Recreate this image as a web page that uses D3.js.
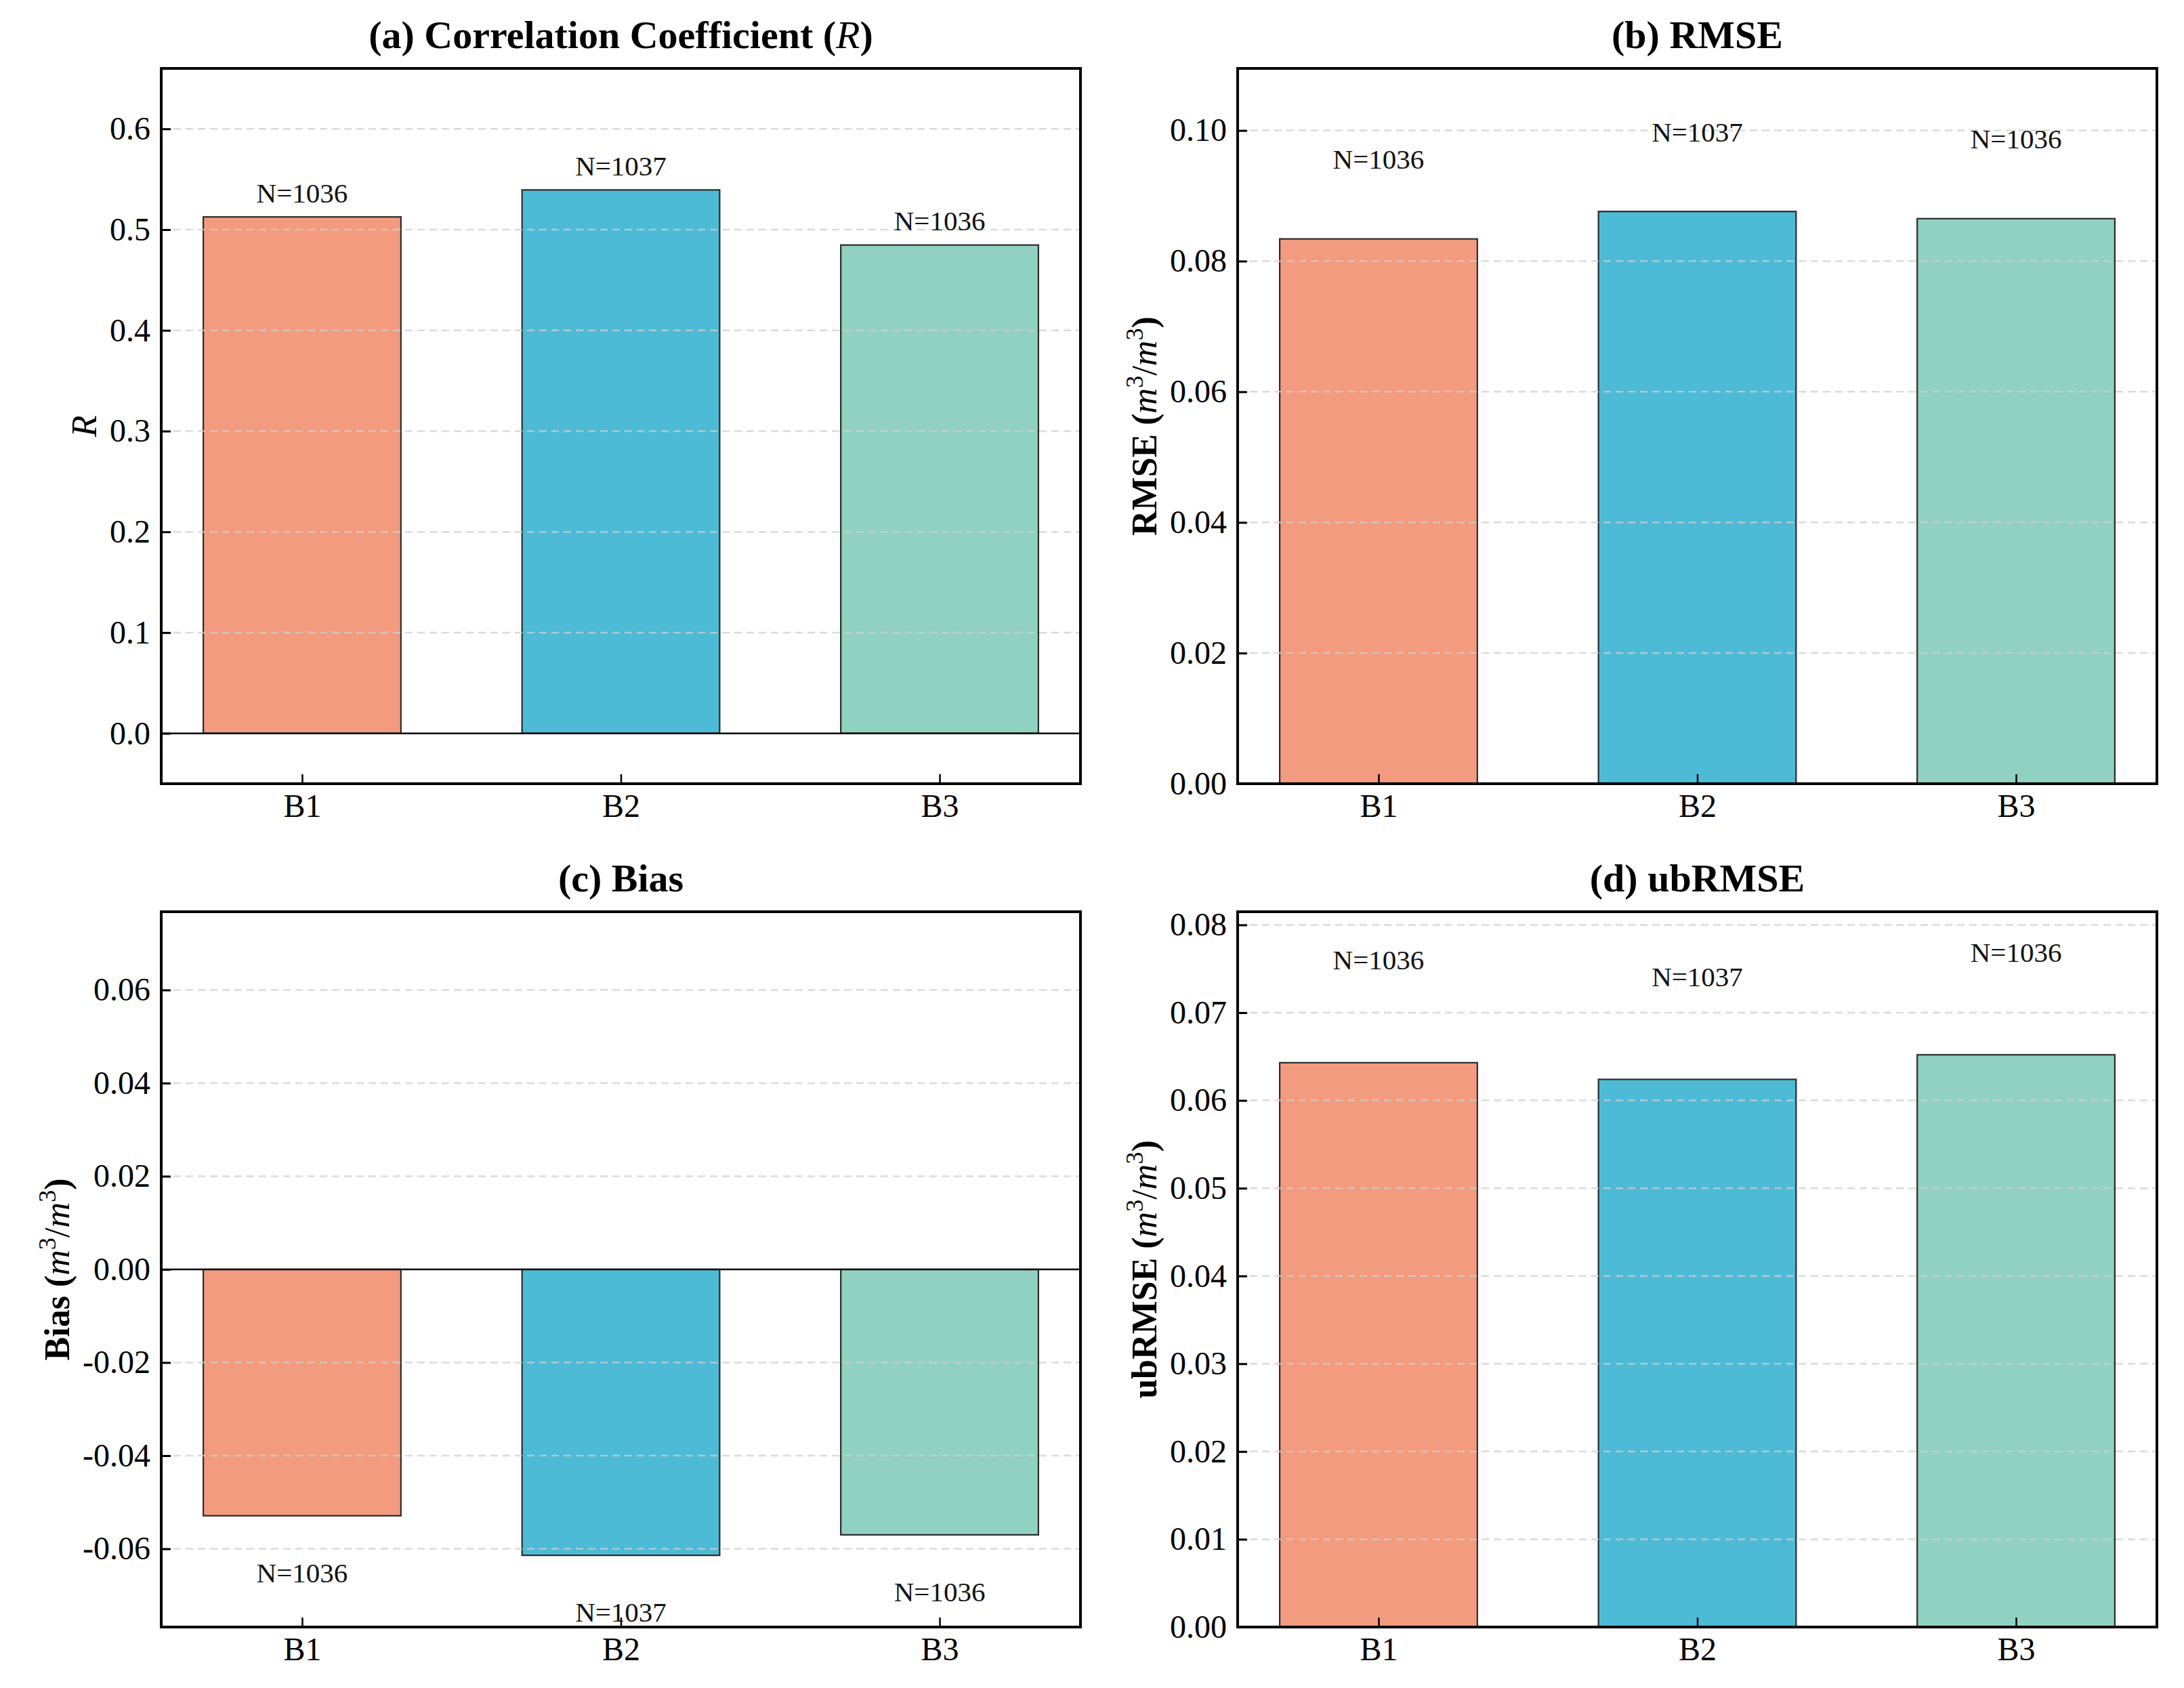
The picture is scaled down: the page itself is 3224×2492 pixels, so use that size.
<!DOCTYPE html>
<html>
<head>
<meta charset="utf-8">
<script src="https://cdn.jsdelivr.net/npm/d3@7"></script>
<style>
  body { margin: 0; background: #fff; }
</style>
</head>
<body>
<script>
// values
const categories = ["B1", "B2", "B3"];
const sampleCounts = [1036, 1037, 1036];
const rValues = [0.5126, 0.5394, 0.4847];
const rmseValues = [0.0834, 0.0876, 0.0865];
const biasValues = [-0.0529, -0.0614, -0.057];
const ubrmseValues = [0.0643, 0.0624, 0.0652];

const rTicks = [0, 0.1, 0.2, 0.3, 0.4, 0.5, 0.6];
const rmseTicks = [0, 0.02, 0.04, 0.06, 0.08, 0.1];
const biasTicks = [-0.06, -0.04, -0.02, 0, 0.02, 0.04, 0.06];
const ubrmseTicks = [0, 0.01, 0.02, 0.03, 0.04, 0.05, 0.06, 0.07, 0.08];

const barColors = ["#F39B7F", "#4DBBD5", "#91D1C2"];

const font = "'Liberation Serif', 'Times New Roman', serif";
const W = 1357;
const H = 1056;

const svg = d3
  .select("body")
  .append("svg")
  .attr("width", 3224)
  .attr("height", 2492)
  .style("background", "#fff");

const unitLabel = (name) => [
  { t: name + " (" },
  { t: "m", italic: true, bold: false },
  { t: "3", sup: true, bold: false },
  { t: "/", bold: false },
  { t: "m", italic: true, bold: false },
  { t: "3", sup: true, bold: false },
  { t: ")" },
];

const panels = [
  {
    left: 238, top: 101,
    title: [{ t: "(a) Correlation Coefficient (" }, { t: "R", italic: true, bold: false }, { t: ")" }],
    ylabel: [{ t: "R", italic: true, bold: false }],
    values: rValues, ticks: rTicks, domain: [-0.05, 0.66], decimals: 1,
    offset: 0.024, zeroLine: true,
  },
  {
    left: 1827, top: 101,
    title: [{ t: "(b) RMSE" }],
    ylabel: unitLabel("RMSE"),
    values: rmseValues, ticks: rmseTicks, domain: [0, 0.1095], decimals: 2,
    offset: 0.0122, zeroLine: false,
  },
  {
    left: 238, top: 1346,
    title: [{ t: "(c) Bias" }],
    ylabel: unitLabel("Bias"),
    values: biasValues, ticks: biasTicks, domain: [-0.0768, 0.0768], decimals: 2,
    offset: 0.0122, zeroLine: true,
  },
  {
    left: 1827, top: 1346,
    title: [{ t: "(d) ubRMSE" }],
    ylabel: unitLabel("ubRMSE"),
    values: ubrmseValues, ticks: ubrmseTicks, domain: [0, 0.0815], decimals: 2,
    offset: 0.0117, zeroLine: false,
  },
];

// rich text with italic / superscript pieces
const addParts = (text, parts, size, bold) => {
  let back = 0;
  parts.forEach((p) => {
    const isBold = p.bold === undefined ? bold : p.bold;
    const span = text
      .append("tspan")
      .text(p.t)
      .attr("font-style", p.italic ? "italic" : "normal")
      .attr("font-weight", isBold ? "bold" : "normal");
    if (p.sup) {
      span.attr("font-size", size * 0.7).attr("dy", back - size * 0.38);
      back = size * 0.38;
    } else {
      span.attr("font-size", size);
      if (back) span.attr("dy", back);
      back = 0;
    }
  });
};

const drawPanel = (p) => {
  const g = svg.append("g").attr("transform", `translate(${p.left},${p.top})`);

  const x = d3.scalePoint().domain(categories).range([0, W]).padding(0.442);
  const y = d3.scaleLinear().domain(p.domain).range([H, 0]);
  const bw = x.step() * 0.62;

  g.append("g")
    .selectAll("rect")
    .data(p.values)
    .join("rect")
    .attr("x", (d, i) => x(categories[i]) - bw / 2)
    .attr("y", (d) => y(Math.max(0, d)))
    .attr("width", bw)
    .attr("height", (d) => Math.abs(y(d) - y(0)))
    .attr("fill", (d, i) => barColors[i])
    .attr("stroke", "#2b2b2b")
    .attr("stroke-width", 2.2);

  // dashed grid over the bars
  g.append("g")
    .selectAll("line")
    .data(p.ticks.filter((t) => !(p.zeroLine && t === 0)))
    .join("line")
    .attr("x1", 0)
    .attr("x2", W)
    .attr("y1", (d) => y(d))
    .attr("y2", (d) => y(d))
    .attr("stroke", "#cfcfcf")
    .attr("stroke-opacity", 0.75)
    .attr("stroke-width", 2.5)
    .attr("stroke-dasharray", "11,7");

  if (p.zeroLine) {
    g.append("line")
      .attr("x1", 0)
      .attr("x2", W)
      .attr("y1", y(0))
      .attr("y2", y(0))
      .attr("stroke", "#000")
      .attr("stroke-width", 2.5);
  }

  // N labels
  g.append("g")
    .selectAll("text")
    .data(p.values)
    .join("text")
    .attr("x", (d, i) => x(categories[i]))
    .attr("y", (d) => y(d + (d < 0 ? -p.offset : p.offset)))
    .attr("text-anchor", "middle")
    .attr("dominant-baseline", "central")
    .attr("font-family", font)
    .attr("font-size", 41)
    .attr("fill", "#111")
    .text((d, i) => "N=" + sampleCounts[i]);

  const yAxis = g
    .append("g")
    .call(
      d3
        .axisLeft(y)
        .tickValues(p.ticks)
        .tickSizeInner(-14)
        .tickSizeOuter(0)
        .tickPadding(16)
        .tickFormat((d) => d.toFixed(p.decimals))
    )
    .attr("font-family", font)
    .attr("font-size", 48)
    .attr("color", "#000");
  yAxis.select(".domain").remove();
  yAxis.selectAll("line").attr("stroke-width", 3);

  const xAxis = g
    .append("g")
    .attr("transform", `translate(0,${H})`)
    .call(d3.axisBottom(x).tickSizeInner(-14).tickSizeOuter(0).tickPadding(15))
    .attr("font-family", font)
    .attr("font-size", 48)
    .attr("color", "#000");
  xAxis.select(".domain").remove();
  xAxis.selectAll("line").attr("stroke-width", 2.5);

  g.append("rect")
    .attr("width", W)
    .attr("height", H)
    .attr("fill", "none")
    .attr("stroke", "#000")
    .attr("stroke-width", 4);

  const title = g
    .append("text")
    .attr("x", W / 2)
    .attr("y", -30)
    .attr("text-anchor", "middle")
    .attr("font-family", font)
    .attr("fill", "#000");
  addParts(title, p.title, 58, true);

  const tickBox = yAxis.node().getBBox();
  const ylab = g
    .append("text")
    .attr("transform", `translate(${tickBox.x - 20},${H / 2}) rotate(-90)`)
    .attr("text-anchor", "middle")
    .attr("font-family", font)
    .attr("fill", "#000");
  addParts(ylab, p.ylabel, 52, true);
};

panels.forEach(drawPanel);
</script>
</body>
</html>
